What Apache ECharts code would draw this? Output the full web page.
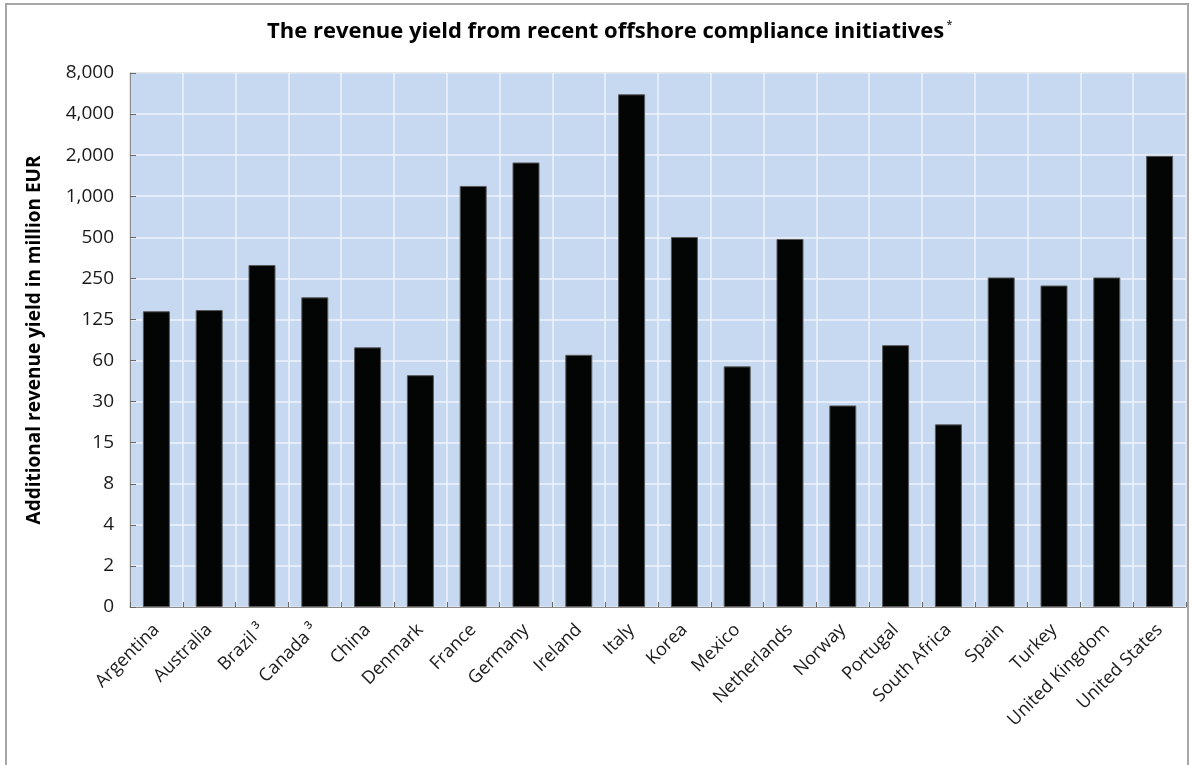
<!DOCTYPE html>
<html>
<head>
<meta charset="utf-8">
<script src="https://cdn.jsdelivr.net/npm/echarts@6/dist/echarts.min.js"></script>
<style>
  html, body { margin: 0; padding: 0; background: #fff; }
  #chart { width: 1193px; height: 765px; }
</style>
</head>
<body>
<div id="chart"></div>
<script>
// countries on the x axis
var countries = ["Argentina", "Australia", "Brazil \u00b3", "Canada \u00b3", "China", "Denmark", "France",
  "Germany", "Ireland", "Italy", "Korea", "Mexico", "Netherlands", "Norway", "Portugal",
  "South Africa", "Spain", "Turkey", "United Kingdom", "United States"];
// additional revenue, million EUR
var revenue = [147, 150, 321, 186, 80, 50, 1218, 1810, 70.5, 5720, 514, 58, 498, 30, 83,
  21.8, 260, 227, 260, 2024];
// tick labels, one per power of two (2^0 .. 2^13)
var tickLabels = ["0", "2", "4", "8", "15", "30", "60", "125", "250", "500", "1,000", "2,000", "4,000", "8,000"];

var chart = echarts.init(document.getElementById("chart"));
var font = "'Open Sans', 'Noto Sans', sans-serif";

chart.setOption({
  backgroundColor: "#fff",
  textStyle: { fontFamily: font },
  graphic: [{
    type: "rect",
    shape: { x: 6, y: 4, width: 1182, height: 775 },
    style: { fill: null, stroke: "#a6a6a6", lineWidth: 2 },
    silent: true
  }],
  title: {
    text: "{t|The revenue yield from recent offshore compliance initiatives}{s| *}",
    left: 262,
    top: 15,
    textStyle: {
      rich: {
        t: { fontFamily: font, fontSize: 22, fontWeight: "bold", color: "#000" },
        s: { fontFamily: font, fontSize: 10, color: "#444", verticalAlign: "top", padding: [0, 0, 14, 0] }
      }
    }
  },
  grid: {
    left: 130,
    right: 7,
    top: 73,
    bottom: 158,
    show: true,
    backgroundColor: "#c6d9f1",
    borderColor: "#8c8c8c",
    borderWidth: 1
  },
  xAxis: {
    type: "category",
    data: countries,
    axisLine: { lineStyle: { color: "#8c8c8c", width: 1 } },
    axisTick: { show: true, inside: true, length: 5, lineStyle: { color: "#666" } },
    splitLine: { show: true, lineStyle: { color: "#eef3fb", width: 1.5 } },
    axisLabel: {
      rotate: 45,
      interval: 0,
      margin: 20,
      color: "#1a1a1a",
      fontSize: 18,
      fontFamily: font
    }
  },
  yAxis: {
    type: "log",
    logBase: 2,
    min: 1,
    max: 8192,
    interval: 1,
    name: "Additional revenue yield in million EUR",
    nameLocation: "middle",
    nameGap: 86,
    nameTextStyle: { fontSize: 19, fontWeight: "bold", color: "#000", fontFamily: font },
    axisLine: { show: true, lineStyle: { color: "#8c8c8c" } },
    axisTick: { show: true, inside: true, length: 6, lineStyle: { color: "#666" } },
    splitLine: { show: true, lineStyle: { color: "#eef3fb", width: 1.5 } },
    axisLabel: {
      color: "#1a1a1a",
      fontSize: 19,
      margin: 16,
      fontFamily: font,
      formatter: function (v) {
        return tickLabels[Math.round(Math.log2(v))];
      }
    }
  },
  series: [{
    type: "bar",
    data: revenue,
    barWidth: 27,
    itemStyle: { color: "#030505", borderColor: "#5a5a5a", borderWidth: 1 },
    silent: true
  }]
});
</script>
</body>
</html>
